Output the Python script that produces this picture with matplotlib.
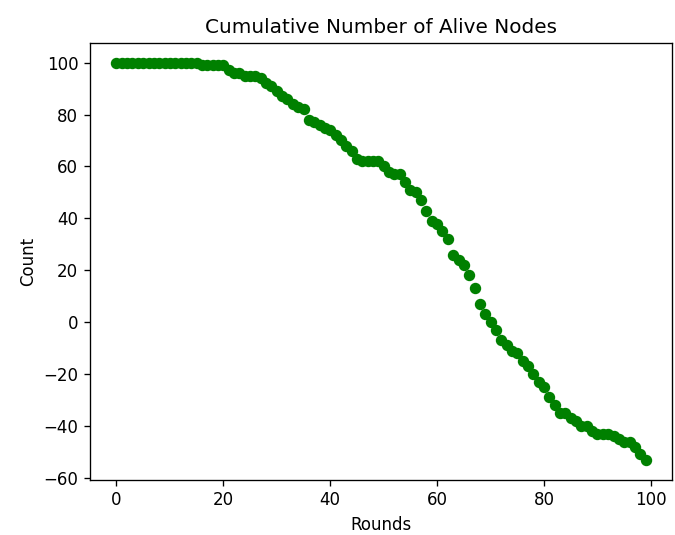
import numpy as np
import matplotlib
matplotlib.use("Agg")
import matplotlib.pyplot as plt

rounds = list(range(100))
alive = [100] * 16 + [99] * 5 + [
    97, 96, 96, 95, 95, 95, 94, 92, 91, 89,
    87, 86, 84, 83, 82, 78, 77, 76, 75, 74,
    72, 70, 68, 66, 63, 62, 62, 62, 62, 60,
    58, 57, 57, 54, 51, 50, 47, 43, 39, 38,
    35, 32, 26, 24, 22, 18, 13, 7, 3, 0,
    -3, -7, -9, -11, -12, -15, -17, -20, -23, -25,
    -29, -32, -35, -35, -37, -38, -40, -40, -42, -43,
    -43, -43, -44, -45, -46, -46, -48, -51, -53,
]

# reference looks like default styling rendered at ~120 dpi
s = 1.2
fig = plt.figure(figsize=(6.75, 5.35), dpi=100)
ax = fig.add_axes([0.1333, 0.1037, 0.8623, 0.8163])
ax.plot(rounds, alive, 'go', markersize=6 * s)
ax.set_title("Cumulative Number of Alive Nodes", fontsize=12 * s, pad=6 * s)
ax.set_xlabel("Rounds", fontsize=10 * s, labelpad=4 * s)
ax.set_ylabel("Count", fontsize=10 * s, labelpad=4 * s)
ax.tick_params(labelsize=10 * s, length=3.5 * s, width=0.8 * s, pad=3.5 * s)
for sp in ax.spines.values():
    sp.set_linewidth(0.8 * s)
ax.set_xticks([0, 20, 40, 60, 80, 100])
ax.set_yticks(np.arange(-60, 101, 20))

fig.savefig("out.png", dpi=100)
